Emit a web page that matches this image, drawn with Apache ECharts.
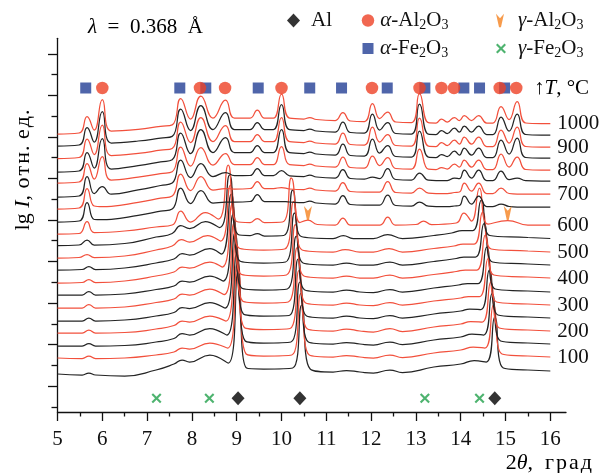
<!DOCTYPE html>
<html><head><meta charset="utf-8">
<script src="https://cdn.jsdelivr.net/npm/echarts@6/dist/echarts.min.js"></script>
<style>html,body{margin:0;padding:0;background:#fff}#c{width:603px;height:473px}</style>
</head><body><div id="c"></div>
<script>
// ---------- axis ticks ----------
const xTicksMajor = [5,6,7,8,9,10,11,12,13,14,15,16];
const xTicksMinor = [5.5,6.5,7.5,8.5,9.5,10.5,11.5,12.5,13.5,14.5,15.5];
const yTicksMajor = [26,67.5,109,150.5,192,233.6,275.1,316.6,358.1];
const yTicksMinor = [5.2,46.7,88.2,129.8,171.3,212.8,254.3,295.8,337.4];

// ---------- curves: vertical offsets (lg I, arb. units) and temperature labels ----------
const curveOffsets = [41,55,68,81,94,107,120,134,147,160,173.5,187,205,218,231,242,254,265,277,288.5];
const tempLabels = ['','100','','200','','300','','400','','500','','600','','700','','800','','900','','1000'];

// ---------- low temperature scans (Al present): [2theta, lg I rel.] ----------
const pat00 = [[5.00,-3],[5.55,-4],[5.70,-2],[5.85,-4],[6.50,-5],[7.20,1],[7.60,7],[7.78,11],[7.95,9],[8.40,16],[8.81,8],[9.03,99],[9.22,3],[9.60,2],[10.25,3],[10.45,66],[10.64,2],[11.15,-1],[11.45,0.5],[11.75,-1],[12.05,-2],[12.42,1],[12.70,-1.5],[13.40,4],[14.00,7],[14.30,10.5],[14.57,9],[14.76,54],[14.95,3],[15.50,1],[16.00,0]];
const pat01 = [[5.00,-1],[5.55,-1.5],[5.70,1],[5.85,-1.5],[6.50,-1],[7.20,2],[7.60,5],[7.78,9],[7.95,8],[8.40,14],[8.80,9],[9.02,95],[9.21,3],[9.60,1],[10.23,2],[10.43,63.5],[10.62,2],[11.15,0],[11.45,1.5],[11.75,0],[12.05,-1],[12.42,2],[12.70,-0.5],[13.40,4],[14.00,7],[14.28,10],[14.54,9],[14.73,52],[14.92,3],[15.50,1],[16.00,0]];
const pat02 = [[5.00,-2],[5.55,-2],[5.70,0.5],[5.85,-2],[6.50,-1.5],[7.20,2],[7.60,5.5],[7.78,10.5],[7.95,9],[8.40,15.5],[8.78,9],[9.00,91],[9.19,3],[9.60,1],[10.21,2],[10.41,62],[10.60,2],[11.15,0],[11.45,1.5],[11.75,0],[12.05,-1],[12.42,2],[12.70,-0.5],[13.40,4],[14.00,7],[14.25,10],[14.51,9],[14.70,50.5],[14.89,3],[15.50,1],[16.00,0]];
const pat03 = [[5.00,-2],[5.55,-2],[5.70,1],[5.85,-2],[6.50,-1.5],[7.20,2],[7.60,5.5],[7.78,10],[7.95,9],[8.40,15],[8.76,10],[8.98,88],[9.17,3.5],[9.60,1.5],[10.19,2.5],[10.39,60.5],[10.58,2],[11.15,0],[11.45,2],[11.75,0],[12.05,-1],[12.42,2.5],[12.70,-0.5],[13.40,4],[14.00,7],[14.22,9.5],[14.48,9],[14.67,49],[14.86,3],[15.50,1],[16.00,0]];
const pat04 = [[5.00,-3],[5.55,-3],[5.70,0],[5.85,-3],[6.50,-2],[7.20,2],[7.60,5.5],[7.78,10.5],[7.95,9.5],[8.40,15.5],[8.74,10],[8.96,85],[9.15,4],[9.60,2],[10.17,2.5],[10.37,59],[10.56,2],[11.15,0],[11.45,2],[11.75,0],[12.05,-0.5],[12.42,2.5],[12.70,0],[13.40,4],[14.00,7],[14.20,9],[14.45,8.5],[14.64,48],[14.83,3],[15.50,1],[16.00,0]];
const pat05 = [[5.00,-3],[5.55,-3],[5.70,0.5],[5.85,-3],[6.50,-2],[7.20,2.5],[7.60,6],[7.78,11],[7.95,10],[8.40,16],[8.72,10.5],[8.94,82],[9.13,4],[9.60,2],[10.15,3],[10.35,57.5],[10.54,2],[11.15,0],[11.45,2],[11.75,0],[12.05,-0.5],[12.42,2.5],[12.70,0],[13.40,4],[14.00,7],[14.17,8.5],[14.42,8.5],[14.61,46.5],[14.80,3],[15.50,1],[16.00,0]];
const pat06 = [[5.00,-3],[5.55,-3],[5.70,0.5],[5.85,-3],[6.50,-2],[7.20,2.5],[7.60,6],[7.78,11],[7.95,10],[8.40,16],[8.70,11],[8.92,78],[9.11,4],[9.60,2],[10.13,3],[10.33,56],[10.52,2],[11.15,0],[11.45,2],[11.75,0],[12.05,-0.5],[12.42,2.5],[12.70,0],[13.40,4],[13.95,7],[14.15,8.5],[14.39,8.5],[14.58,45],[14.77,3],[15.50,1],[16.00,0]];
const pat07 = [[5.00,-5],[5.55,-4.5],[5.70,-1.5],[5.85,-4.5],[6.50,-3],[7.20,2],[7.60,6],[7.78,11],[7.95,10],[8.40,16],[8.68,11],[8.90,74],[9.09,4],[9.60,2],[10.11,3],[10.31,53.5],[10.50,2],[11.15,0],[11.45,2],[11.75,0],[12.05,0],[12.42,3],[12.70,0],[13.40,3.5],[13.90,6.5],[14.10,8],[14.36,8],[14.55,43],[14.74,3],[15.50,1],[16.00,0]];
const pat08 = [[5.00,-5],[5.55,-4.5],[5.70,-1.5],[5.85,-4.5],[6.50,-3],[7.20,2],[7.60,6],[7.78,11.5],[7.95,10],[8.40,16.5],[8.66,11],[8.88,71],[9.07,4],[9.60,2],[10.09,3],[10.29,52],[10.48,2],[11.15,0],[11.45,2],[11.75,0],[12.05,0],[12.42,3],[12.70,0],[13.40,3.5],[13.90,6.5],[14.07,8],[14.33,8],[14.52,41.5],[14.71,3],[15.50,1],[16.00,0]];
const pat09 = [[5.00,-6],[5.48,-5.5],[5.66,-2.5],[5.82,-5.5],[6.50,-4],[7.20,2],[7.56,6],[7.76,12.5],[7.95,10],[8.35,16.5],[8.64,11],[8.86,67],[9.05,4],[9.60,2],[10.07,3],[10.27,50.5],[10.46,2],[11.15,0],[11.42,2.5],[11.75,0],[12.05,0],[12.40,3.5],[12.70,0],[13.40,3.5],[13.85,6],[14.05,8],[14.30,8],[14.49,40],[14.68,3],[15.50,1],[16.00,0]];
const pat10 = [[5.00,-7],[5.48,-6.5],[5.66,-1.5],[5.82,-6.5],[6.50,-5],[7.20,1.5],[7.56,5],[7.75,13],[7.95,10],[8.30,17],[8.62,11],[8.84,63.5],[9.03,4],[9.30,3],[9.46,5],[9.62,2.5],[10.05,3],[10.25,48.5],[10.44,2],[11.15,0],[11.38,3],[11.60,0],[12.05,0],[12.37,4],[12.70,0],[13.40,3],[13.80,5.5],[14.03,8],[14.27,8],[14.46,38.5],[14.65,3],[15.50,1],[16.00,0]];
const pat11 = [[5.00,-9],[5.48,-8.5],[5.66,3.5],[5.82,-7.5],[6.50,-6],[7.20,-2],[7.56,0],[7.75,14],[7.97,3],[8.30,12.5],[8.59,6],[8.81,60],[9.00,3.5],[9.30,2.5],[9.46,6.5],[9.62,2.5],[10.02,3],[10.22,47],[10.41,2.5],[10.59,5],[10.80,0.5],[11.20,0],[11.37,7],[11.54,0],[12.20,0],[12.37,8],[12.54,0],[13.00,0.5],[13.17,4],[13.35,0.5],[13.90,2],[14.07,12],[14.24,4],[14.42,37],[14.61,1],[15.05,4.5],[15.50,0],[16.00,0]];

// ---------- high temperature scans (no Al): common 2theta grid + lg I rel. ----------
const twoThetaHigh = [5.00,5.48,5.66,5.82,6.00,6.20,6.80,7.30,7.56,7.75,7.97,8.20,8.47,8.75,8.95,9.30,9.46,9.62,9.82,10.00,10.18,10.50,10.63,10.78,11.20,11.37,11.54,11.85,12.03,12.19,12.37,12.55,12.90,13.08,13.28,13.45,13.57,13.70,13.86,13.97,14.08,14.24,14.40,14.58,14.72,14.90,15.08,15.26,15.45,15.80,16.00];
const pat12 = [-15,-14,4.5,-12.5,-12.7,-12.4,-8.3,-4.2,-2,19,3.5,16.5,4,5,5,5.5,12.5,5.5,5.5,5.5,5,4.5,6,4,3,11.5,2.5,2,2,2,12,1.5,1,5,0.8,0.5,0.5,0.5,1,1.5,11,3,11,0.5,0.5,3,0.5,0,0,0,0];
const pat13 = [-15,-14,5.5,-12,-12.7,-12.4,-8.3,-4.2,-2,20,3.5,17.5,4,5.5,5,5.5,12.5,5.5,5.5,6.5,5,4.5,6,4,3,11.5,2.5,2,2,2,12.5,1.5,1,6,0.8,0.5,0.5,0.5,1.5,2,11,3,11,0.5,0.5,6,0.5,0,0,0,0];
const pat14 = [-16,-15,4.5,-12.5,-5.7,-13.2,-8.8,-4.5,-2.1,21,3.5,17.5,4.5,8.5,5.3,5.5,12.5,5.5,5.5,10.5,5.2,4.5,6,4,3,11.5,2.5,2,4,2.5,12.5,1.5,1,8,0.8,0.5,0.5,0.5,3,2.5,11,3,11,0.5,0.5,10,1.5,3,0.3,0,0];
const pat15 = [-13,-12,6.5,-9,13.3,-10,-7.2,-3.6,-1.7,23,4,22.5,5,16.5,5.5,5.5,12.5,5.5,5.5,23.5,5.3,4.5,6,4,3,13,2.5,2,14,4.5,12.5,1.5,1,21,0.8,0.5,2.5,1,6,3,10,3,10,0.5,0.5,16,3,13,0.5,0,0];
const pat16 = [-14,-13,5.5,-10,19.3,-11,-7.7,-3.9,-1.8,25,4.5,28.5,5.5,20.5,5.5,5.5,12.5,5.5,5.5,28.5,5.3,4.5,6,4,3,14,2.5,2,19,5,12.5,1.5,1,27,0.8,0.5,3.5,1.5,7,3,10,3,10,0.5,0.5,18,4,20,0.5,0,0];
const pat17 = [-11.5,-10.5,8,-7.5,21.8,-8.5,-6.3,-3.2,-1.5,25,4.5,29.5,5.5,21.5,5.5,5.5,12.5,5.5,5.5,29.5,5.3,4.5,6,4,3,14,2.5,2,20,5,12.5,1.5,1,29,0.8,0.5,4.5,1.5,7,3,10,3,10,0.5,0.5,17,4,20,0.5,0,0];
const pat18 = [-11,-10,7.5,-7,23.3,-8,-6,-3.1,-1.4,26,4.5,29.5,5.5,22.5,5.5,5.5,12.5,5.5,5.5,30.5,5.3,4.5,6,4,3,13,2.5,2,21,5,12.5,1.5,1,31,0.8,0.5,4.5,1.5,7,3,9,3,9,0.5,0.5,18,4,21,0.5,0,0];
const pat19 = [-10.5,-9.5,7,-6.5,24,-7.5,-5.8,-2.9,-1.4,25,4.5,27.5,5.5,23.5,5.5,5.5,13.5,5.5,5.5,29.5,5.3,4.5,6,4,3,11,2.5,2,20,5,11.5,1.5,1,30,0.8,0.5,4.5,1.5,6,3,8,3,8,0.5,0.5,17,4,22,0.5,0,0];

// ---------- phase markers (2theta) ----------
const alphaFe2O3Pos = [5.63,7.73,8.31,9.48,10.63,11.34,12.36,13.2,14.07,14.42,14.98];
const alphaAl2O3Pos = [6.0,8.18,8.74,10.0,12.02,13.08,13.57,13.85,14.87,15.24];
const alPos = [9.03,10.41,14.76];
const gammaFe2O3Pos = [7.21,8.39,13.2,14.42];
const gammaAl2O3Pos = [10.59,15.05];
const markerRowTop = 324, markerRowBottom = 13.7, gammaAl2O3Row = 199;

const lowPats = [pat00,pat01,pat02,pat03,pat04,pat05,pat06,pat07,pat08,pat09,pat10,pat11];
const highPats = [pat12,pat13,pat14,pat15,pat16,pat17,pat18,pat19];

const FONT = "'Liberation Serif','Times New Roman',serif";
const INK = '#111';
const RED = '#f2503c', BLACK = '#242424';
const rich = {
  n: {fontFamily: FONT, fontSize: 21, color: INK, lineHeight: 24},
  i: {fontFamily: FONT, fontSize: 21, fontStyle: 'italic', color: INK, lineHeight: 24},
  s: {fontFamily: FONT, fontSize: 14, color: INK, lineHeight: 14, verticalAlign: 'bottom'},
  N: {fontFamily: FONT, fontSize: 22, color: INK, lineHeight: 26},
  I: {fontFamily: FONT, fontSize: 22, fontStyle: 'italic', color: INK, lineHeight: 26},
  c: {fontFamily: FONT, fontSize: 22, color: INK, lineHeight: 26, padding: [0, 1, 0, 1]}
};

const series = [];
for (let i = 0; i < 20; i++) {
  let data;
  if (i < 12) data = lowPats[i].map(p => [p[0], curveOffsets[i] + p[1]]);
  else { const d = highPats[i - 12]; data = twoThetaHigh.map((x, k) => [x, curveOffsets[i] + d[k]]); }
  const red = i % 2 === 1;
  series.push({
    type: 'line', name: 'scan' + i, data, showSymbol: false, smooth: 0.5, clip: false,
    silent: true, animation: false,
    lineStyle: {width: 1.25, color: red ? RED : BLACK},
    itemStyle: {color: red ? RED : BLACK},
    endLabel: tempLabels[i] ? {show: true, formatter: tempLabels[i], distance: 7,
      fontFamily: FONT, fontSize: 21, color: INK} : {show: false}
  });
}
const mk = (name, pos, row, symbol, size, color, z) => ({
  type: 'scatter', name, data: pos.map(x => [x, row]), symbol, symbolSize: size,
  itemStyle: {color}, z, clip: false, silent: true, animation: false
});
const vPath = 'path://M0,0 L4.5,5 L9,0 L5.6,15 L3.4,15 Z';
const xPath = 'path://M1.5,0 L5,3.5 L8.5,0 L10,1.5 L6.5,5 L10,8.5 L8.5,10 L5,6.5 L1.5,10 L0,8.5 L3.5,5 L0,1.5 Z';
series.push(mk('α-Fe2O3', alphaFe2O3Pos, markerRowTop, 'rect', 11, '#233f95', 5));
series.push(mk('α-Al2O3', alphaAl2O3Pos, markerRowTop, 'circle', 12.5, '#ee4125', 6));
series.push(mk('Al', alPos, markerRowBottom, 'diamond', [13, 14], '#000', 6));
series.push(mk('γ-Fe2O3', gammaFe2O3Pos, markerRowBottom, xPath, 10, '#22a04b', 6));
series.push(mk('γ-Al2O3', gammaAl2O3Pos, gammaAl2O3Row, vPath, [8, 14], '#f5821f', 6));

const legendText = {
  'Al': '{n|Al}',
  'α-Al2O3': '{i|α}{n|-Al}{s|2}{n|O}{s|3}',
  'γ-Al2O3': '{i|γ}{n|-Al}{s|2}{n|O}{s|3}',
  'α-Fe2O3': '{i|α}{n|-Fe}{s|2}{n|O}{s|3}',
  'γ-Fe2O3': '{i|γ}{n|-Fe}{s|2}{n|O}{s|3}'
};
const lg = (name, left, top, w, h, pad) => ({
  data: [name], left, top, padding: 0, itemWidth: w, itemHeight: h, selectedMode: false,
  formatter: n => legendText[n],
  textStyle: {fontFamily: FONT, fontSize: 21, color: INK, rich, padding: [0, 0, 0, pad]}
});

const lineSt = {color: INK, width: 1.3};
const option = {
  animation: false,
  backgroundColor: '#fff',
  grid: {left: 57.5, right: 37, top: 38.3, bottom: 61, outerBoundsMode: 'none'},
  xAxis: [
    {type: 'value', min: 5, max: 16.35, position: 'bottom',
      axisLine: {show: true, onZero: false, lineStyle: lineSt},
      axisTick: {show: true, customValues: xTicksMajor, length: 9, lineStyle: lineSt},
      axisLabel: {show: true, customValues: xTicksMajor, margin: 17, fontFamily: FONT, fontSize: 21, color: INK},
      splitLine: {show: false}},
    {type: 'value', min: 5, max: 16.35, position: 'bottom',
      axisLine: {show: false, onZero: false},
      axisTick: {show: true, customValues: xTicksMinor, length: 4.5, lineStyle: lineSt},
      axisLabel: {show: false}, splitLine: {show: false}}
  ],
  yAxis: [
    {type: 'value', min: 0, max: 373.7, position: 'left',
      axisLine: {show: true, onZero: false, lineStyle: lineSt},
      axisTick: {show: true, customValues: yTicksMajor, length: 9.5, lineStyle: lineSt},
      axisLabel: {show: false}, splitLine: {show: false}},
    {type: 'value', min: 0, max: 373.7, position: 'left',
      axisLine: {show: false, onZero: false},
      axisTick: {show: true, customValues: yTicksMinor, length: 6, lineStyle: lineSt},
      axisLabel: {show: false}, splitLine: {show: false}}
  ],
  legend: [
    lg('Al', 287, 10, 13, 14, 6),
    lg('α-Al2O3', 361.75, 10, 12.5, 12.5, 1),
    lg('γ-Al2O3', 496, 10, 8, 14, 9),
    lg('α-Fe2O3', 362.5, 38, 11, 11, 1.5),
    lg('γ-Fe2O3', 496, 38, 10, 10, 7)
  ],
  graphic: [
    {type: 'text', x: 88, y: 27, silent: true, style: {text: '{i|λ}{n|  =  0.368  Å}', rich, align: 'left', verticalAlign: 'middle'}},
    {type: 'text', x: 534, y: 88, silent: true, style: {text: '{n|↑}{i|T}{n|, °C}', rich, align: 'left', verticalAlign: 'middle'}},
    {type: 'text', x: 593, y: 463, silent: true, style: {text: '{N|2}{I|θ}{N|,  }{c|г}{c|р}{c|а}{c|д}', rich, align: 'right', verticalAlign: 'middle'}},
    {type: 'text', x: 23, y: 170, rotation: Math.PI / 2, silent: true, style: {text: '{N|lg }{I|I}{N|, }{c|о}{c|т}{c|н}{N|. }{c|е}{c|д}{N|.}', rich, align: 'center', verticalAlign: 'middle'}}
  ],
  series
};
const chart = echarts.init(document.getElementById('c'), null, {renderer: 'canvas'});
chart.setOption(option);
</script>
</body></html>
